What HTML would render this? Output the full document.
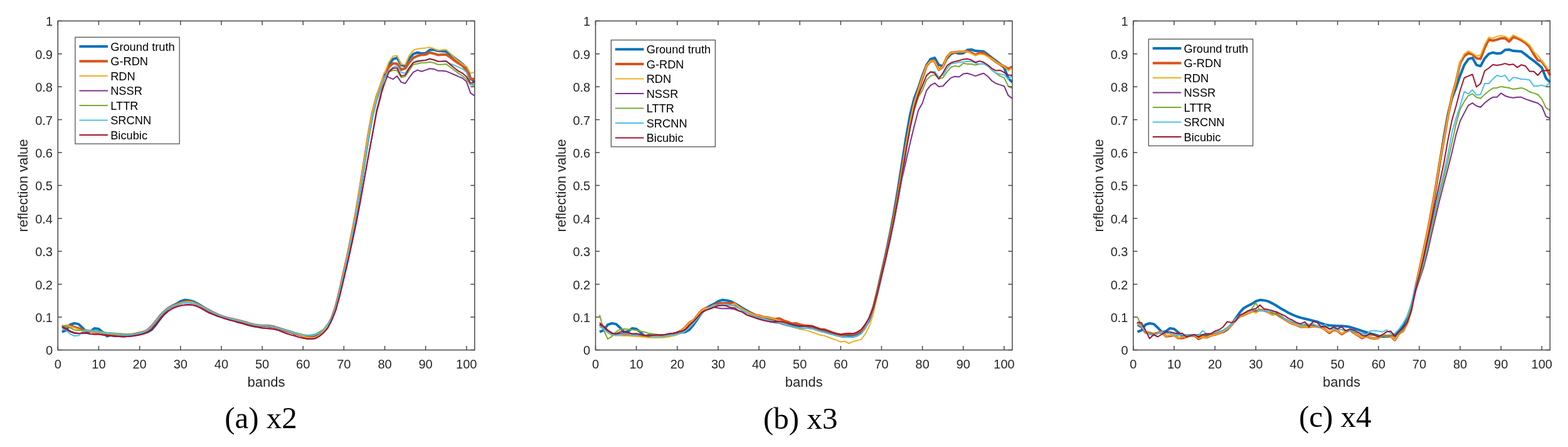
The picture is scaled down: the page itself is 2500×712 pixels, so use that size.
<!DOCTYPE html>
<html><head><meta charset="utf-8"><style>
html,body{margin:0;padding:0;background:#fff;width:2500px;height:712px;overflow:hidden}
svg{display:block}
.t{font-family:"Liberation Sans",Arial,sans-serif;font-size:20px;fill:#262626}
.l{font-family:"Liberation Sans",Arial,sans-serif;font-size:22px;fill:#262626}
.g{font-family:"Liberation Sans",Arial,sans-serif;font-size:18.25px;fill:#000}
.c{font-family:"Liberation Serif","Times New Roman",serif;font-size:49px;fill:#000}
</style></head><body>
<svg width="2500" height="712" viewBox="0 0 2500 712">
<polyline points="98.8,528.7 105.3,526.1 111.8,517.1 118.4,515.0 124.9,516.1 131.4,521.9 137.9,529.2 144.4,527.6 150.9,522.9 157.4,524.0 164.0,529.2 170.5,535.5 177.0,533.9 183.5,534.4 190.0,534.4 196.5,533.9 203.1,534.4 209.6,533.9 216.1,532.9 222.6,531.3 229.1,529.7 235.6,528.7 242.1,525.0 248.7,517.1 255.2,507.7 261.7,498.3 268.2,490.9 274.7,487.3 281.2,484.1 287.8,479.9 294.3,477.8 300.8,478.4 307.3,479.9 313.8,483.1 320.3,486.7 326.8,490.9 333.4,494.6 339.9,498.3 346.4,501.4 352.9,504.0 359.4,506.1 365.9,507.7 372.4,509.3 379.0,510.9 385.5,512.4 392.0,515.0 398.5,517.1 405.0,518.2 411.5,518.7 418.1,519.2 424.6,519.2 431.1,519.8 437.6,520.8 444.1,522.9 450.6,525.0 457.1,527.1 463.7,529.2 470.2,531.3 476.7,532.9 483.2,535.0 489.7,536.0 496.2,536.0 502.7,535.5 509.3,533.4 515.8,528.2 522.3,518.7 528.8,507.7 535.3,489.4 541.8,463.2 548.3,434.3 554.9,405.5 561.4,374.1 567.9,340.0 574.4,301.7 580.9,260.3 587.4,218.9 594.0,182.2 600.5,156.6 607.0,139.8 613.5,120.4 620.0,103.6 626.5,94.2 633.0,92.1 639.6,103.6 646.1,105.2 652.6,93.1 659.1,85.8 665.6,83.7 672.1,85.3 678.6,84.8 685.2,79.5 691.7,79.0 698.2,81.1 704.7,81.6 711.2,82.1 717.7,86.9 724.3,92.1 730.8,96.8 737.3,102.1 743.8,107.8 750.3,124.6 756.8,130.9" fill="none" stroke="#0072BD" stroke-width="4" stroke-linejoin="round"/>
<polyline points="98.8,520.8 105.3,519.2 111.8,519.2 118.4,520.8 124.9,522.9 131.4,525.5 137.9,526.6 144.4,527.6 150.9,528.7 157.4,529.2 164.0,530.2 170.5,531.3 177.0,531.8 183.5,532.3 190.0,532.9 196.5,533.4 203.1,533.4 209.6,532.9 216.1,531.8 222.6,530.2 229.1,528.7 235.6,525.5 242.1,519.2 248.7,511.4 255.2,503.0 261.7,496.2 268.2,490.9 274.7,487.8 281.2,485.2 287.8,482.6 294.3,481.0 300.8,480.5 307.3,481.5 313.8,484.1 320.3,487.3 326.8,490.9 333.4,494.6 339.9,497.8 346.4,500.9 352.9,503.5 359.4,505.6 365.9,507.2 372.4,508.8 379.0,510.3 385.5,511.9 392.0,513.5 398.5,515.6 405.0,517.1 411.5,518.2 418.1,518.7 424.6,518.7 431.1,519.2 437.6,520.8 444.1,522.9 450.6,525.0 457.1,526.6 463.7,528.7 470.2,530.8 476.7,532.9 483.2,535.5 489.7,537.6 496.2,538.1 502.7,537.6 509.3,533.9 515.8,528.2 522.3,519.2 528.8,507.5 535.3,488.7 541.8,462.1 548.3,432.9 554.9,403.5 561.4,371.5 567.9,336.7 574.4,297.6 580.9,255.5 587.4,214.0 594.0,178.4 600.5,153.8 607.0,136.2 613.5,117.0 620.0,106.8 626.5,101.0 633.0,101.5 639.6,111.0 646.1,108.9 652.6,99.2 659.1,92.1 665.6,89.0 672.1,87.4 678.6,86.9 685.2,83.7 691.7,85.3 698.2,87.4 704.7,86.9 711.2,86.9 717.7,91.1 724.3,96.3 730.8,100.5 737.3,104.7 743.8,112.0 750.3,126.2 756.8,125.6" fill="none" stroke="#D95319" stroke-width="4" stroke-linejoin="round"/>
<polyline points="98.8,519.8 105.3,518.7 111.8,519.8 118.4,521.9 124.9,524.5 131.4,527.1 137.9,526.6 144.4,527.6 150.9,528.7 157.4,529.2 164.0,530.2 170.5,531.3 177.0,531.8 183.5,532.3 190.0,532.9 196.5,533.4 203.1,533.4 209.6,532.9 216.1,531.8 222.6,530.2 229.1,528.7 235.6,525.5 242.1,519.2 248.7,511.4 255.2,503.0 261.7,496.2 268.2,490.9 274.7,487.8 281.2,485.2 287.8,482.6 294.3,481.0 300.8,480.5 307.3,481.5 313.8,484.1 320.3,487.3 326.8,490.9 333.4,494.6 339.9,497.8 346.4,500.9 352.9,503.5 359.4,505.6 365.9,507.2 372.4,508.8 379.0,510.3 385.5,511.9 392.0,513.5 398.5,515.6 405.0,517.1 411.5,518.2 418.1,518.7 424.6,518.7 431.1,519.2 437.6,520.8 444.1,522.9 450.6,525.0 457.1,526.6 463.7,528.7 470.2,530.8 476.7,532.9 483.2,535.5 489.7,537.6 496.2,538.1 502.7,537.6 509.3,533.9 515.8,528.2 522.3,519.2 528.8,507.4 535.3,488.4 541.8,461.5 548.3,432.2 554.9,402.6 561.4,370.2 567.9,335.0 574.4,295.5 580.9,253.1 587.4,211.6 594.0,176.5 600.5,152.4 607.0,134.5 613.5,115.4 620.0,98.9 626.5,89.5 633.0,88.4 639.6,102.6 646.1,103.1 652.6,87.9 659.1,80.0 665.6,77.9 672.1,76.9 678.6,76.4 685.2,75.3 691.7,77.4 698.2,80.6 704.7,79.5 711.2,79.0 717.7,84.8 724.3,92.1 730.8,97.3 737.3,102.1 743.8,106.2 750.3,116.7 756.8,114.6" fill="none" stroke="#EDB120" stroke-width="2" stroke-linejoin="round"/>
<polyline points="98.8,519.8 105.3,522.9 111.8,527.1 118.4,529.7 124.9,530.8 131.4,531.3 137.9,530.8 144.4,532.0 150.9,532.6 157.4,532.6 164.0,533.4 170.5,533.9 177.0,535.0 183.5,535.7 190.0,536.0 196.5,536.4 203.1,536.0 209.6,535.5 216.1,534.4 222.6,533.4 229.1,531.8 235.6,529.2 242.1,524.5 248.7,517.1 255.2,509.3 261.7,501.4 268.2,495.7 274.7,491.5 281.2,488.8 287.8,486.7 294.3,485.7 300.8,485.2 307.3,485.7 313.8,487.8 320.3,490.9 326.8,494.6 333.4,498.3 339.9,500.9 346.4,503.5 352.9,505.6 359.4,507.7 365.9,509.8 372.4,511.4 379.0,513.5 385.5,515.0 392.0,517.1 398.5,518.7 405.0,520.3 411.5,521.3 418.1,522.4 424.6,522.9 431.1,523.4 437.6,524.5 444.1,526.1 450.6,528.7 457.1,531.3 463.7,533.4 470.2,535.0 476.7,537.1 483.2,538.6 489.7,539.7 496.2,539.7 502.7,539.2 509.3,535.5 515.8,530.2 522.3,522.9 528.8,510.3 535.3,494.3 541.8,471.0 548.3,443.9 554.9,416.1 561.4,386.6 567.9,355.9 574.4,322.1 580.9,285.2 587.4,248.9 594.0,213.4 600.5,178.8 607.0,154.6 613.5,118.3 620.0,123.2 626.5,126.2 633.0,121.1 639.6,130.9 646.1,133.0 652.6,123.5 659.1,114.8 665.6,111.6 672.1,113.8 678.6,111.6 685.2,109.2 691.7,109.9 698.2,112.7 704.7,112.7 711.2,113.4 717.7,116.2 724.3,119.0 730.8,121.8 737.3,124.5 743.8,130.1 750.3,148.4 756.8,152.6" fill="none" stroke="#7E2F8E" stroke-width="2" stroke-linejoin="round"/>
<polyline points="98.8,518.2 105.3,519.8 111.8,522.1 118.4,525.5 124.9,526.6 131.4,526.1 137.9,525.5 144.4,526.1 150.9,526.6 157.4,527.6 164.0,528.7 170.5,529.7 177.0,530.2 183.5,530.8 190.0,531.3 196.5,531.8 203.1,532.3 209.6,532.3 216.1,531.3 222.6,529.2 229.1,528.7 235.6,525.5 242.1,519.2 248.7,511.4 255.2,503.0 261.7,496.2 268.2,490.9 274.7,487.8 281.2,485.2 287.8,483.6 294.3,482.6 300.8,482.0 307.3,483.1 313.8,484.1 320.3,487.3 326.8,490.9 333.4,494.6 339.9,497.8 346.4,500.9 352.9,503.5 359.4,505.6 365.9,507.2 372.4,508.8 379.0,510.3 385.5,511.9 392.0,513.5 398.5,515.6 405.0,517.1 411.5,518.2 418.1,518.7 424.6,518.7 431.1,519.2 437.6,520.8 444.1,522.9 450.6,524.5 457.1,526.1 463.7,527.6 470.2,529.7 476.7,531.3 483.2,532.9 489.7,533.9 496.2,533.4 502.7,532.3 509.3,528.7 515.8,524.5 522.3,516.1 528.8,507.8 535.3,489.8 541.8,464.1 548.3,435.8 554.9,407.3 561.4,376.4 567.9,343.0 574.4,305.6 580.9,265.2 587.4,224.5 594.0,187.7 600.5,160.8 607.0,142.9 613.5,124.3 620.0,114.6 626.5,112.0 633.0,112.0 639.6,123.5 646.1,121.7 652.6,112.0 659.1,102.6 665.6,101.5 672.1,100.1 678.6,100.0 685.2,98.7 691.7,100.0 698.2,102.8 704.7,102.8 711.2,102.1 717.7,106.8 724.3,111.7 730.8,116.6 737.3,120.8 743.8,126.4 750.3,135.4 756.8,132.6" fill="none" stroke="#77AC30" stroke-width="2" stroke-linejoin="round"/>
<polyline points="98.8,523.7 105.3,525.7 111.8,532.0 118.4,535.1 124.9,534.6 131.4,529.4 137.9,525.6 144.4,526.6 150.9,527.8 157.4,528.7 164.0,529.7 170.5,530.2 177.0,531.3 183.5,531.8 190.0,532.6 196.5,533.4 203.1,533.4 209.6,533.4 216.1,532.3 222.6,530.8 229.1,528.7 235.6,525.5 242.1,519.2 248.7,511.4 255.2,503.0 261.7,496.2 268.2,490.9 274.7,487.8 281.2,485.2 287.8,483.6 294.3,482.6 300.8,482.0 307.3,483.1 313.8,484.1 320.3,487.3 326.8,490.9 333.4,494.6 339.9,497.8 346.4,500.9 352.9,503.5 359.4,505.6 365.9,507.2 372.4,508.8 379.0,510.3 385.5,511.9 392.0,513.5 398.5,515.6 405.0,517.1 411.5,518.2 418.1,518.7 424.6,518.7 431.1,519.2 437.6,520.8 444.1,522.9 450.6,524.5 457.1,526.1 463.7,528.2 470.2,530.2 476.7,531.8 483.2,533.4 489.7,534.4 496.2,534.4 502.7,533.4 509.3,530.2 515.8,525.5 522.3,517.1 528.8,507.8 535.3,489.6 541.8,463.7 548.3,435.1 554.9,406.4 561.4,375.2 567.9,341.5 574.4,303.7 580.9,262.8 587.4,221.7 594.0,185.0 600.5,158.7 607.0,141.3 613.5,122.3 620.0,112.0 626.5,107.1 633.0,104.8 639.6,115.2 646.1,116.7 652.6,106.8 659.1,99.2 665.6,96.3 672.1,96.3 678.6,96.0 685.2,93.7 691.7,95.2 698.2,97.9 704.7,97.9 711.2,97.3 717.7,101.5 724.3,104.0 730.8,106.8 737.3,109.6 743.8,115.2 750.3,134.7 756.8,136.8" fill="none" stroke="#4DBEEE" stroke-width="2" stroke-linejoin="round"/>
<polyline points="98.8,521.2 105.3,524.4 111.8,528.2 118.4,530.7 124.9,531.2 131.4,530.1 137.9,530.8 144.4,532.0 150.9,532.6 157.4,532.6 164.0,533.4 170.5,533.9 177.0,535.0 183.5,535.7 190.0,536.0 196.5,536.4 203.1,536.0 209.6,535.5 216.1,534.4 222.6,533.4 229.1,531.8 235.6,529.2 242.1,524.5 248.7,517.1 255.2,509.3 261.7,501.4 268.2,495.7 274.7,491.5 281.2,488.8 287.8,486.7 294.3,485.7 300.8,485.2 307.3,485.7 313.8,487.8 320.3,490.9 326.8,494.6 333.4,498.3 339.9,500.9 346.4,503.5 352.9,505.6 359.4,507.7 365.9,509.8 372.4,511.4 379.0,513.5 385.5,515.0 392.0,517.1 398.5,518.7 405.0,520.3 411.5,521.3 418.1,522.4 424.6,522.9 431.1,523.4 437.6,524.5 444.1,526.1 450.6,528.7 457.1,531.3 463.7,533.4 470.2,535.0 476.7,537.1 483.2,538.6 489.7,539.7 496.2,539.7 502.7,539.2 509.3,535.5 515.8,530.2 522.3,522.9 528.8,510.2 535.3,494.0 541.8,470.4 548.3,443.0 554.9,414.9 561.4,385.1 567.9,354.5 574.4,321.0 580.9,284.3 587.4,248.1 594.0,212.7 600.5,175.9 607.0,151.1 613.5,132.0 620.0,114.6 626.5,108.8 633.0,108.3 639.6,121.1 646.1,119.4 652.6,108.3 659.1,99.6 665.6,98.0 672.1,96.8 678.6,96.0 685.2,93.8 691.7,95.2 698.2,97.7 704.7,97.6 711.2,97.3 717.7,102.6 724.3,108.2 730.8,113.1 737.3,116.6 743.8,122.2 750.3,132.6 756.8,130.5" fill="none" stroke="#A2142F" stroke-width="2" stroke-linejoin="round"/>
<rect x="92.3" y="33.4" width="664.5" height="524.1" fill="none" stroke="#464646" stroke-width="1.5"/>
<line x1="92.3" y1="557.5" x2="92.3" y2="551.0" stroke="#464646" stroke-width="1.5"/>
<line x1="92.3" y1="33.4" x2="92.3" y2="39.9" stroke="#464646" stroke-width="1.5"/>
<text x="92.3" y="586.8" class="t" text-anchor="middle">0</text>
<line x1="157.4" y1="557.5" x2="157.4" y2="551.0" stroke="#464646" stroke-width="1.5"/>
<line x1="157.4" y1="33.4" x2="157.4" y2="39.9" stroke="#464646" stroke-width="1.5"/>
<text x="157.4" y="586.8" class="t" text-anchor="middle">10</text>
<line x1="222.6" y1="557.5" x2="222.6" y2="551.0" stroke="#464646" stroke-width="1.5"/>
<line x1="222.6" y1="33.4" x2="222.6" y2="39.9" stroke="#464646" stroke-width="1.5"/>
<text x="222.6" y="586.8" class="t" text-anchor="middle">20</text>
<line x1="287.8" y1="557.5" x2="287.8" y2="551.0" stroke="#464646" stroke-width="1.5"/>
<line x1="287.8" y1="33.4" x2="287.8" y2="39.9" stroke="#464646" stroke-width="1.5"/>
<text x="287.8" y="586.8" class="t" text-anchor="middle">30</text>
<line x1="352.9" y1="557.5" x2="352.9" y2="551.0" stroke="#464646" stroke-width="1.5"/>
<line x1="352.9" y1="33.4" x2="352.9" y2="39.9" stroke="#464646" stroke-width="1.5"/>
<text x="352.9" y="586.8" class="t" text-anchor="middle">40</text>
<line x1="418.1" y1="557.5" x2="418.1" y2="551.0" stroke="#464646" stroke-width="1.5"/>
<line x1="418.1" y1="33.4" x2="418.1" y2="39.9" stroke="#464646" stroke-width="1.5"/>
<text x="418.1" y="586.8" class="t" text-anchor="middle">50</text>
<line x1="483.2" y1="557.5" x2="483.2" y2="551.0" stroke="#464646" stroke-width="1.5"/>
<line x1="483.2" y1="33.4" x2="483.2" y2="39.9" stroke="#464646" stroke-width="1.5"/>
<text x="483.2" y="586.8" class="t" text-anchor="middle">60</text>
<line x1="548.3" y1="557.5" x2="548.3" y2="551.0" stroke="#464646" stroke-width="1.5"/>
<line x1="548.3" y1="33.4" x2="548.3" y2="39.9" stroke="#464646" stroke-width="1.5"/>
<text x="548.3" y="586.8" class="t" text-anchor="middle">70</text>
<line x1="613.5" y1="557.5" x2="613.5" y2="551.0" stroke="#464646" stroke-width="1.5"/>
<line x1="613.5" y1="33.4" x2="613.5" y2="39.9" stroke="#464646" stroke-width="1.5"/>
<text x="613.5" y="586.8" class="t" text-anchor="middle">80</text>
<line x1="678.6" y1="557.5" x2="678.6" y2="551.0" stroke="#464646" stroke-width="1.5"/>
<line x1="678.6" y1="33.4" x2="678.6" y2="39.9" stroke="#464646" stroke-width="1.5"/>
<text x="678.6" y="586.8" class="t" text-anchor="middle">90</text>
<line x1="743.8" y1="557.5" x2="743.8" y2="551.0" stroke="#464646" stroke-width="1.5"/>
<line x1="743.8" y1="33.4" x2="743.8" y2="39.9" stroke="#464646" stroke-width="1.5"/>
<text x="743.8" y="586.8" class="t" text-anchor="middle">100</text>
<line x1="92.3" y1="557.5" x2="98.8" y2="557.5" stroke="#464646" stroke-width="1.5"/>
<line x1="756.8" y1="557.5" x2="750.3" y2="557.5" stroke="#464646" stroke-width="1.5"/>
<text x="84.0" y="565.4" class="t" text-anchor="end">0</text>
<line x1="92.3" y1="505.1" x2="98.8" y2="505.1" stroke="#464646" stroke-width="1.5"/>
<line x1="756.8" y1="505.1" x2="750.3" y2="505.1" stroke="#464646" stroke-width="1.5"/>
<text x="84.0" y="513.0" class="t" text-anchor="end">0.1</text>
<line x1="92.3" y1="452.7" x2="98.8" y2="452.7" stroke="#464646" stroke-width="1.5"/>
<line x1="756.8" y1="452.7" x2="750.3" y2="452.7" stroke="#464646" stroke-width="1.5"/>
<text x="84.0" y="460.6" class="t" text-anchor="end">0.2</text>
<line x1="92.3" y1="400.3" x2="98.8" y2="400.3" stroke="#464646" stroke-width="1.5"/>
<line x1="756.8" y1="400.3" x2="750.3" y2="400.3" stroke="#464646" stroke-width="1.5"/>
<text x="84.0" y="408.2" class="t" text-anchor="end">0.3</text>
<line x1="92.3" y1="347.9" x2="98.8" y2="347.9" stroke="#464646" stroke-width="1.5"/>
<line x1="756.8" y1="347.9" x2="750.3" y2="347.9" stroke="#464646" stroke-width="1.5"/>
<text x="84.0" y="355.8" class="t" text-anchor="end">0.4</text>
<line x1="92.3" y1="295.4" x2="98.8" y2="295.4" stroke="#464646" stroke-width="1.5"/>
<line x1="756.8" y1="295.4" x2="750.3" y2="295.4" stroke="#464646" stroke-width="1.5"/>
<text x="84.0" y="303.3" class="t" text-anchor="end">0.5</text>
<line x1="92.3" y1="243.0" x2="98.8" y2="243.0" stroke="#464646" stroke-width="1.5"/>
<line x1="756.8" y1="243.0" x2="750.3" y2="243.0" stroke="#464646" stroke-width="1.5"/>
<text x="84.0" y="250.9" class="t" text-anchor="end">0.6</text>
<line x1="92.3" y1="190.6" x2="98.8" y2="190.6" stroke="#464646" stroke-width="1.5"/>
<line x1="756.8" y1="190.6" x2="750.3" y2="190.6" stroke="#464646" stroke-width="1.5"/>
<text x="84.0" y="198.5" class="t" text-anchor="end">0.7</text>
<line x1="92.3" y1="138.2" x2="98.8" y2="138.2" stroke="#464646" stroke-width="1.5"/>
<line x1="756.8" y1="138.2" x2="750.3" y2="138.2" stroke="#464646" stroke-width="1.5"/>
<text x="84.0" y="146.1" class="t" text-anchor="end">0.8</text>
<line x1="92.3" y1="85.8" x2="98.8" y2="85.8" stroke="#464646" stroke-width="1.5"/>
<line x1="756.8" y1="85.8" x2="750.3" y2="85.8" stroke="#464646" stroke-width="1.5"/>
<text x="84.0" y="93.7" class="t" text-anchor="end">0.9</text>
<line x1="92.3" y1="33.4" x2="98.8" y2="33.4" stroke="#464646" stroke-width="1.5"/>
<line x1="756.8" y1="33.4" x2="750.3" y2="33.4" stroke="#464646" stroke-width="1.5"/>
<text x="84.0" y="41.3" class="t" text-anchor="end">1</text>
<text x="424.6" y="615.8" class="l" text-anchor="middle">bands</text>
<text transform="translate(44.3,295.4) rotate(-90)" class="l" text-anchor="middle">reflection value</text>
<rect x="119.9" y="59.3" width="166.2" height="169.8" fill="#fff" stroke="#464646" stroke-width="1.2"/>
<line x1="126.4" y1="74.0" x2="171.9" y2="74.0" stroke="#0072BD" stroke-width="4"/>
<text x="176.2" y="80.9" class="g">Ground truth</text>
<line x1="126.4" y1="97.5" x2="171.9" y2="97.5" stroke="#D95319" stroke-width="4"/>
<text x="176.2" y="104.4" class="g">G-RDN</text>
<line x1="126.4" y1="121.0" x2="171.9" y2="121.0" stroke="#EDB120" stroke-width="2"/>
<text x="176.2" y="127.9" class="g">RDN</text>
<line x1="126.4" y1="144.5" x2="171.9" y2="144.5" stroke="#7E2F8E" stroke-width="2"/>
<text x="176.2" y="151.4" class="g">NSSR</text>
<line x1="126.4" y1="168.0" x2="171.9" y2="168.0" stroke="#77AC30" stroke-width="2"/>
<text x="176.2" y="174.9" class="g">LTTR</text>
<line x1="126.4" y1="191.5" x2="171.9" y2="191.5" stroke="#4DBEEE" stroke-width="2"/>
<text x="176.2" y="198.4" class="g">SRCNN</text>
<line x1="126.4" y1="215.0" x2="171.9" y2="215.0" stroke="#A2142F" stroke-width="2"/>
<text x="176.2" y="221.9" class="g">Bicubic</text>
<text x="416.05" y="681.9" class="c" text-anchor="middle">(a) x2</text>
<polyline points="956.0,528.7 962.5,526.1 969.0,517.1 975.6,515.0 982.1,516.1 988.6,521.9 995.1,529.2 1001.6,527.6 1008.1,522.9 1014.6,524.0 1021.2,529.2 1027.7,535.5 1034.2,533.9 1040.7,534.4 1047.2,534.4 1053.7,533.9 1060.3,534.4 1066.8,533.9 1073.3,532.9 1079.8,531.3 1086.3,529.7 1092.8,528.7 1099.3,525.0 1105.9,517.1 1112.4,507.7 1118.9,498.3 1125.4,490.9 1131.9,487.3 1138.4,484.1 1145.0,479.9 1151.5,477.8 1158.0,478.4 1164.5,479.9 1171.0,483.1 1177.5,486.7 1184.0,490.9 1190.6,494.6 1197.1,498.3 1203.6,501.4 1210.1,504.0 1216.6,506.1 1223.1,507.7 1229.6,509.3 1236.2,510.9 1242.7,512.4 1249.2,515.0 1255.7,517.1 1262.2,518.2 1268.7,518.7 1275.2,519.2 1281.8,519.2 1288.3,519.8 1294.8,520.8 1301.3,522.9 1307.8,525.0 1314.3,527.1 1320.9,529.2 1327.4,531.3 1333.9,532.9 1340.4,535.0 1346.9,536.0 1353.4,536.0 1359.9,535.5 1366.5,533.4 1373.0,528.2 1379.5,518.7 1386.0,507.7 1392.5,489.4 1399.0,463.2 1405.5,434.3 1412.1,405.5 1418.6,374.1 1425.1,340.0 1431.6,301.7 1438.1,260.3 1444.6,218.9 1451.2,182.2 1457.7,156.6 1464.2,139.8 1470.7,120.4 1477.2,103.6 1483.7,94.2 1490.2,92.1 1496.8,103.6 1503.3,105.2 1509.8,93.1 1516.3,85.8 1522.8,83.7 1529.3,85.3 1535.8,84.8 1542.4,79.5 1548.9,79.0 1555.4,81.1 1561.9,81.6 1568.4,82.1 1574.9,86.9 1581.5,92.1 1588.0,96.8 1594.5,102.1 1601.0,107.8 1607.5,124.6 1614.0,130.9" fill="none" stroke="#0072BD" stroke-width="4" stroke-linejoin="round"/>
<polyline points="956.0,517.1 962.5,520.8 969.0,527.1 975.6,531.3 982.1,532.9 988.6,532.9 995.1,531.8 1001.6,532.3 1008.1,533.4 1014.6,533.4 1021.2,533.9 1027.7,534.4 1034.2,535.5 1040.7,536.0 1047.2,536.0 1053.7,536.0 1060.3,535.5 1066.8,534.4 1073.3,533.4 1079.8,529.7 1086.3,526.8 1092.8,521.3 1099.3,513.7 1105.9,509.9 1112.4,501.9 1118.9,494.3 1125.4,491.0 1131.9,489.4 1138.4,485.9 1145.0,483.6 1151.5,483.1 1158.0,483.1 1164.5,483.1 1171.0,483.6 1177.5,488.3 1184.0,492.6 1190.6,496.0 1197.1,498.8 1203.6,501.6 1210.1,502.7 1216.6,504.9 1223.1,505.5 1229.6,507.1 1236.2,508.3 1242.7,507.2 1249.2,510.6 1255.7,512.6 1262.2,515.6 1268.7,515.0 1275.2,517.0 1281.8,518.5 1288.3,519.0 1294.8,519.5 1301.3,522.0 1307.8,524.4 1314.3,524.9 1320.9,527.4 1327.4,529.8 1333.9,531.8 1340.4,533.2 1346.9,532.3 1353.4,531.8 1359.9,532.3 1366.5,530.3 1373.0,526.4 1379.5,518.5 1386.0,508.7 1392.5,489.9 1399.0,464.7 1405.5,436.8 1412.1,408.8 1418.6,378.6 1425.1,345.8 1431.6,309.4 1438.1,270.7 1444.6,231.4 1451.2,195.1 1457.7,164.3 1464.2,144.0 1470.7,124.3 1477.2,104.9 1483.7,97.3 1490.2,97.3 1496.8,111.2 1503.3,106.3 1509.8,90.9 1516.3,83.9 1522.8,83.2 1529.3,82.5 1535.8,82.5 1542.4,81.6 1548.9,83.9 1555.4,87.4 1561.9,83.9 1568.4,84.6 1574.9,88.7 1581.5,93.7 1588.0,98.6 1594.5,102.8 1601.0,105.6 1607.5,109.8 1614.0,106.3" fill="none" stroke="#D95319" stroke-width="4" stroke-linejoin="round"/>
<polyline points="956.0,517.1 962.5,524.0 969.0,530.2 975.6,533.9 982.1,534.4 988.6,534.4 995.1,535.0 1001.6,535.0 1008.1,535.5 1014.6,536.0 1021.2,536.5 1027.7,537.1 1034.2,537.9 1040.7,537.9 1047.2,537.9 1053.7,537.9 1060.3,537.6 1066.8,536.5 1073.3,535.0 1079.8,533.4 1086.3,526.8 1092.8,521.3 1099.3,513.7 1105.9,509.9 1112.4,501.9 1118.9,494.3 1125.4,491.0 1131.9,489.4 1138.4,485.9 1145.0,486.2 1151.5,485.2 1158.0,485.2 1164.5,486.2 1171.0,483.6 1177.5,488.3 1184.0,492.6 1190.6,496.0 1197.1,498.8 1203.6,501.6 1210.1,502.7 1216.6,504.9 1223.1,505.5 1229.6,507.1 1236.2,508.3 1242.7,511.6 1249.2,514.5 1255.7,517.5 1262.2,520.3 1268.7,522.4 1275.2,524.4 1281.8,525.4 1288.3,526.9 1294.8,529.3 1301.3,531.3 1307.8,533.8 1314.3,534.8 1320.9,537.2 1327.4,539.7 1333.9,541.6 1340.4,544.6 1346.9,543.6 1353.4,547.0 1359.9,544.1 1366.5,542.6 1373.0,540.6 1379.5,532.3 1386.0,519.5 1392.5,499.8 1399.0,471.0 1405.5,442.0 1412.1,412.2 1418.6,380.4 1425.1,347.5 1431.6,310.9 1438.1,271.1 1444.6,230.5 1451.2,193.3 1457.7,162.6 1464.2,142.6 1470.7,122.3 1477.2,104.9 1483.7,97.3 1490.2,97.3 1496.8,111.2 1503.3,106.3 1509.8,90.9 1516.3,83.9 1522.8,83.2 1529.3,82.5 1535.8,82.5 1542.4,81.6 1548.9,85.3 1555.4,88.4 1561.9,86.3 1568.4,86.9 1574.9,90.5 1581.5,93.7 1588.0,98.6 1594.5,102.8 1601.0,105.6 1607.5,112.6 1614.0,108.3" fill="none" stroke="#EDB120" stroke-width="2" stroke-linejoin="round"/>
<polyline points="956.0,516.6 962.5,521.9 969.0,527.1 975.6,531.3 982.1,532.3 988.6,531.3 995.1,531.3 1001.6,531.3 1008.1,532.3 1014.6,531.6 1021.2,533.0 1027.7,534.4 1034.2,535.1 1040.7,533.9 1047.2,533.0 1053.7,533.9 1060.3,533.0 1066.8,531.6 1073.3,530.8 1079.8,529.5 1086.3,527.6 1092.8,525.0 1099.3,518.2 1105.9,511.9 1112.4,505.1 1118.9,497.8 1125.4,494.1 1131.9,492.0 1138.4,489.4 1145.0,490.4 1151.5,491.5 1158.0,491.2 1164.5,491.5 1171.0,492.5 1177.5,495.1 1184.0,497.1 1190.6,501.6 1197.1,503.8 1203.6,506.0 1210.1,508.3 1216.6,510.0 1223.1,511.6 1229.6,512.7 1236.2,514.0 1242.7,514.5 1249.2,517.1 1255.7,518.7 1262.2,520.3 1268.7,521.4 1275.2,522.4 1281.8,522.9 1288.3,522.9 1294.8,523.4 1301.3,525.9 1307.8,527.8 1314.3,529.3 1320.9,531.3 1327.4,532.8 1333.9,534.8 1340.4,536.2 1346.9,536.7 1353.4,537.2 1359.9,537.1 1366.5,535.2 1373.0,531.3 1379.5,523.4 1386.0,511.4 1392.5,492.1 1399.0,468.4 1405.5,441.5 1412.1,414.2 1418.6,385.6 1425.1,354.8 1431.6,320.9 1438.1,285.2 1444.6,256.2 1451.2,227.2 1457.7,200.6 1464.2,175.8 1470.7,164.3 1477.2,144.2 1483.7,135.8 1490.2,132.3 1496.8,137.9 1503.3,137.2 1509.8,130.2 1516.3,123.9 1522.8,121.8 1529.3,122.5 1535.8,117.6 1542.4,116.8 1548.9,118.9 1555.4,121.1 1561.9,118.8 1568.4,116.8 1574.9,121.8 1581.5,128.8 1588.0,133.0 1594.5,135.1 1601.0,137.2 1607.5,152.0 1614.0,156.9" fill="none" stroke="#7E2F8E" stroke-width="2" stroke-linejoin="round"/>
<polyline points="956.0,501.5 962.5,526.0 969.0,540.0 975.6,535.8 982.1,528.8 988.6,524.6 995.1,523.9 1001.6,524.5 1008.1,525.3 1014.6,526.1 1021.2,527.4 1027.7,528.8 1034.2,530.9 1040.7,531.8 1047.2,532.9 1053.7,533.4 1060.3,533.9 1066.8,533.9 1073.3,533.4 1079.8,532.3 1086.3,530.8 1092.8,527.6 1099.3,521.9 1105.9,514.5 1112.4,506.7 1118.9,499.3 1125.4,493.6 1131.9,489.9 1138.4,487.3 1145.0,487.3 1151.5,485.7 1158.0,485.7 1164.5,486.2 1171.0,487.3 1177.5,490.9 1184.0,494.6 1190.6,498.3 1197.1,501.4 1203.6,504.0 1210.1,506.1 1216.6,507.7 1223.1,509.3 1229.6,510.9 1236.2,511.9 1242.7,513.5 1249.2,516.1 1255.7,518.2 1262.2,519.8 1268.7,521.3 1275.2,522.4 1281.8,522.9 1288.3,522.9 1294.8,523.4 1301.3,525.5 1307.8,527.6 1314.3,529.2 1320.9,531.3 1327.4,532.9 1333.9,534.4 1340.4,536.0 1346.9,536.5 1353.4,537.1 1359.9,536.5 1366.5,535.0 1373.0,531.3 1379.5,523.4 1386.0,508.0 1392.5,490.3 1399.0,465.1 1405.5,437.2 1412.1,409.8 1418.6,380.4 1425.1,348.5 1431.6,313.2 1438.1,276.9 1444.6,239.6 1451.2,204.3 1457.7,175.8 1464.2,154.9 1470.7,144.0 1477.2,127.4 1483.7,121.1 1490.2,118.9 1496.8,125.3 1503.3,123.9 1509.8,114.7 1516.3,107.0 1522.8,104.9 1529.3,106.3 1535.8,100.7 1542.4,102.1 1548.9,102.1 1555.4,103.5 1561.9,102.1 1568.4,101.5 1574.9,105.6 1581.5,111.9 1588.0,116.8 1594.5,121.1 1601.0,123.9 1607.5,137.2 1614.0,140.7" fill="none" stroke="#77AC30" stroke-width="2" stroke-linejoin="round"/>
<polyline points="956.0,520.8 962.5,524.0 969.0,529.2 975.6,532.9 982.1,533.9 988.6,532.9 995.1,531.8 1001.6,532.3 1008.1,533.4 1014.6,533.4 1021.2,533.9 1027.7,534.4 1034.2,535.5 1040.7,536.0 1047.2,536.0 1053.7,536.0 1060.3,535.5 1066.8,534.4 1073.3,533.4 1079.8,532.3 1086.3,530.8 1092.8,527.1 1099.3,521.9 1105.9,514.5 1112.4,506.7 1118.9,499.3 1125.4,493.6 1131.9,489.9 1138.4,487.3 1145.0,485.7 1151.5,484.7 1158.0,484.7 1164.5,485.7 1171.0,487.3 1177.5,490.9 1184.0,494.6 1190.6,498.3 1197.1,501.4 1203.6,504.0 1210.1,506.1 1216.6,507.7 1223.1,509.3 1229.6,510.9 1236.2,511.9 1242.7,513.5 1249.2,516.1 1255.7,518.2 1262.2,519.8 1268.7,521.3 1275.2,522.4 1281.8,522.9 1288.3,522.9 1294.8,523.4 1301.3,525.5 1307.8,527.6 1314.3,529.2 1320.9,531.3 1327.4,532.9 1333.9,534.4 1340.4,536.0 1346.9,536.5 1353.4,537.1 1359.9,536.5 1366.5,535.0 1373.0,531.3 1379.5,523.4 1386.0,508.4 1392.5,491.7 1399.0,468.1 1405.5,441.5 1412.1,414.5 1418.6,385.9 1425.1,354.9 1431.6,320.9 1438.1,282.4 1444.6,242.4 1451.2,204.3 1457.7,173.7 1464.2,152.1 1470.7,135.9 1477.2,119.9 1483.7,114.1 1490.2,114.1 1496.8,122.5 1503.3,119.9 1509.8,109.4 1516.3,101.4 1522.8,100.5 1529.3,99.3 1535.8,98.6 1542.4,97.9 1548.9,97.9 1555.4,100.7 1561.9,102.1 1568.4,101.5 1574.9,104.9 1581.5,111.2 1588.0,116.2 1594.5,118.3 1601.0,118.9 1607.5,126.0 1614.0,120.4" fill="none" stroke="#4DBEEE" stroke-width="2" stroke-linejoin="round"/>
<polyline points="956.0,514.1 962.5,520.3 969.0,526.0 975.6,530.9 982.1,531.6 988.6,528.8 995.1,528.1 1001.6,529.5 1008.1,531.6 1014.6,531.6 1021.2,533.0 1027.7,534.4 1034.2,535.1 1040.7,533.9 1047.2,533.0 1053.7,533.9 1060.3,533.0 1066.8,531.6 1073.3,530.8 1079.8,529.5 1086.3,527.6 1092.8,525.0 1099.3,518.2 1105.9,511.9 1112.4,505.1 1118.9,497.8 1125.4,494.1 1131.9,492.0 1138.4,489.4 1145.0,487.0 1151.5,486.4 1158.0,487.3 1164.5,489.7 1171.0,490.4 1177.5,494.8 1184.0,497.1 1190.6,501.6 1197.1,503.8 1203.6,506.0 1210.1,508.3 1216.6,510.0 1223.1,511.6 1229.6,512.7 1236.2,511.9 1242.7,511.9 1249.2,513.0 1255.7,514.5 1262.2,516.1 1268.7,518.2 1275.2,518.7 1281.8,519.5 1288.3,519.0 1294.8,519.5 1301.3,522.0 1307.8,524.4 1314.3,524.9 1320.9,527.4 1327.4,529.8 1333.9,531.8 1340.4,533.2 1346.9,531.8 1353.4,531.6 1359.9,531.6 1366.5,529.2 1373.0,525.0 1379.5,516.6 1386.0,506.1 1392.5,490.4 1399.0,466.2 1405.5,439.3 1412.1,412.1 1418.6,383.0 1425.1,351.7 1431.6,317.0 1438.1,279.0 1444.6,239.6 1451.2,202.4 1457.7,172.6 1464.2,151.5 1470.7,136.3 1477.2,120.4 1483.7,114.7 1490.2,116.2 1496.8,126.0 1503.3,116.2 1509.8,104.9 1516.3,100.0 1522.8,97.9 1529.3,96.5 1535.8,94.4 1542.4,93.7 1548.9,95.8 1555.4,99.3 1561.9,97.2 1568.4,99.3 1574.9,103.5 1581.5,109.1 1588.0,112.6 1594.5,111.9 1601.0,115.4 1607.5,119.7 1614.0,119.7" fill="none" stroke="#A2142F" stroke-width="2" stroke-linejoin="round"/>
<rect x="949.5" y="33.4" width="664.5" height="524.1" fill="none" stroke="#464646" stroke-width="1.5"/>
<line x1="949.5" y1="557.5" x2="949.5" y2="551.0" stroke="#464646" stroke-width="1.5"/>
<line x1="949.5" y1="33.4" x2="949.5" y2="39.9" stroke="#464646" stroke-width="1.5"/>
<text x="949.5" y="586.8" class="t" text-anchor="middle">0</text>
<line x1="1014.6" y1="557.5" x2="1014.6" y2="551.0" stroke="#464646" stroke-width="1.5"/>
<line x1="1014.6" y1="33.4" x2="1014.6" y2="39.9" stroke="#464646" stroke-width="1.5"/>
<text x="1014.6" y="586.8" class="t" text-anchor="middle">10</text>
<line x1="1079.8" y1="557.5" x2="1079.8" y2="551.0" stroke="#464646" stroke-width="1.5"/>
<line x1="1079.8" y1="33.4" x2="1079.8" y2="39.9" stroke="#464646" stroke-width="1.5"/>
<text x="1079.8" y="586.8" class="t" text-anchor="middle">20</text>
<line x1="1145.0" y1="557.5" x2="1145.0" y2="551.0" stroke="#464646" stroke-width="1.5"/>
<line x1="1145.0" y1="33.4" x2="1145.0" y2="39.9" stroke="#464646" stroke-width="1.5"/>
<text x="1145.0" y="586.8" class="t" text-anchor="middle">30</text>
<line x1="1210.1" y1="557.5" x2="1210.1" y2="551.0" stroke="#464646" stroke-width="1.5"/>
<line x1="1210.1" y1="33.4" x2="1210.1" y2="39.9" stroke="#464646" stroke-width="1.5"/>
<text x="1210.1" y="586.8" class="t" text-anchor="middle">40</text>
<line x1="1275.2" y1="557.5" x2="1275.2" y2="551.0" stroke="#464646" stroke-width="1.5"/>
<line x1="1275.2" y1="33.4" x2="1275.2" y2="39.9" stroke="#464646" stroke-width="1.5"/>
<text x="1275.2" y="586.8" class="t" text-anchor="middle">50</text>
<line x1="1340.4" y1="557.5" x2="1340.4" y2="551.0" stroke="#464646" stroke-width="1.5"/>
<line x1="1340.4" y1="33.4" x2="1340.4" y2="39.9" stroke="#464646" stroke-width="1.5"/>
<text x="1340.4" y="586.8" class="t" text-anchor="middle">60</text>
<line x1="1405.5" y1="557.5" x2="1405.5" y2="551.0" stroke="#464646" stroke-width="1.5"/>
<line x1="1405.5" y1="33.4" x2="1405.5" y2="39.9" stroke="#464646" stroke-width="1.5"/>
<text x="1405.5" y="586.8" class="t" text-anchor="middle">70</text>
<line x1="1470.7" y1="557.5" x2="1470.7" y2="551.0" stroke="#464646" stroke-width="1.5"/>
<line x1="1470.7" y1="33.4" x2="1470.7" y2="39.9" stroke="#464646" stroke-width="1.5"/>
<text x="1470.7" y="586.8" class="t" text-anchor="middle">80</text>
<line x1="1535.8" y1="557.5" x2="1535.8" y2="551.0" stroke="#464646" stroke-width="1.5"/>
<line x1="1535.8" y1="33.4" x2="1535.8" y2="39.9" stroke="#464646" stroke-width="1.5"/>
<text x="1535.8" y="586.8" class="t" text-anchor="middle">90</text>
<line x1="1601.0" y1="557.5" x2="1601.0" y2="551.0" stroke="#464646" stroke-width="1.5"/>
<line x1="1601.0" y1="33.4" x2="1601.0" y2="39.9" stroke="#464646" stroke-width="1.5"/>
<text x="1601.0" y="586.8" class="t" text-anchor="middle">100</text>
<line x1="949.5" y1="557.5" x2="956.0" y2="557.5" stroke="#464646" stroke-width="1.5"/>
<line x1="1614.0" y1="557.5" x2="1607.5" y2="557.5" stroke="#464646" stroke-width="1.5"/>
<text x="941.2" y="565.4" class="t" text-anchor="end">0</text>
<line x1="949.5" y1="505.1" x2="956.0" y2="505.1" stroke="#464646" stroke-width="1.5"/>
<line x1="1614.0" y1="505.1" x2="1607.5" y2="505.1" stroke="#464646" stroke-width="1.5"/>
<text x="941.2" y="513.0" class="t" text-anchor="end">0.1</text>
<line x1="949.5" y1="452.7" x2="956.0" y2="452.7" stroke="#464646" stroke-width="1.5"/>
<line x1="1614.0" y1="452.7" x2="1607.5" y2="452.7" stroke="#464646" stroke-width="1.5"/>
<text x="941.2" y="460.6" class="t" text-anchor="end">0.2</text>
<line x1="949.5" y1="400.3" x2="956.0" y2="400.3" stroke="#464646" stroke-width="1.5"/>
<line x1="1614.0" y1="400.3" x2="1607.5" y2="400.3" stroke="#464646" stroke-width="1.5"/>
<text x="941.2" y="408.2" class="t" text-anchor="end">0.3</text>
<line x1="949.5" y1="347.9" x2="956.0" y2="347.9" stroke="#464646" stroke-width="1.5"/>
<line x1="1614.0" y1="347.9" x2="1607.5" y2="347.9" stroke="#464646" stroke-width="1.5"/>
<text x="941.2" y="355.8" class="t" text-anchor="end">0.4</text>
<line x1="949.5" y1="295.4" x2="956.0" y2="295.4" stroke="#464646" stroke-width="1.5"/>
<line x1="1614.0" y1="295.4" x2="1607.5" y2="295.4" stroke="#464646" stroke-width="1.5"/>
<text x="941.2" y="303.3" class="t" text-anchor="end">0.5</text>
<line x1="949.5" y1="243.0" x2="956.0" y2="243.0" stroke="#464646" stroke-width="1.5"/>
<line x1="1614.0" y1="243.0" x2="1607.5" y2="243.0" stroke="#464646" stroke-width="1.5"/>
<text x="941.2" y="250.9" class="t" text-anchor="end">0.6</text>
<line x1="949.5" y1="190.6" x2="956.0" y2="190.6" stroke="#464646" stroke-width="1.5"/>
<line x1="1614.0" y1="190.6" x2="1607.5" y2="190.6" stroke="#464646" stroke-width="1.5"/>
<text x="941.2" y="198.5" class="t" text-anchor="end">0.7</text>
<line x1="949.5" y1="138.2" x2="956.0" y2="138.2" stroke="#464646" stroke-width="1.5"/>
<line x1="1614.0" y1="138.2" x2="1607.5" y2="138.2" stroke="#464646" stroke-width="1.5"/>
<text x="941.2" y="146.1" class="t" text-anchor="end">0.8</text>
<line x1="949.5" y1="85.8" x2="956.0" y2="85.8" stroke="#464646" stroke-width="1.5"/>
<line x1="1614.0" y1="85.8" x2="1607.5" y2="85.8" stroke="#464646" stroke-width="1.5"/>
<text x="941.2" y="93.7" class="t" text-anchor="end">0.9</text>
<line x1="949.5" y1="33.4" x2="956.0" y2="33.4" stroke="#464646" stroke-width="1.5"/>
<line x1="1614.0" y1="33.4" x2="1607.5" y2="33.4" stroke="#464646" stroke-width="1.5"/>
<text x="941.2" y="41.3" class="t" text-anchor="end">1</text>
<text x="1281.8" y="615.8" class="l" text-anchor="middle">bands</text>
<text transform="translate(901.5,295.4) rotate(-90)" class="l" text-anchor="middle">reflection value</text>
<rect x="974.4" y="63.8" width="166" height="170" fill="#fff" stroke="#464646" stroke-width="1.2"/>
<line x1="980.9" y1="78.5" x2="1026.4" y2="78.5" stroke="#0072BD" stroke-width="4"/>
<text x="1030.7" y="85.4" class="g">Ground truth</text>
<line x1="980.9" y1="102.0" x2="1026.4" y2="102.0" stroke="#D95319" stroke-width="4"/>
<text x="1030.7" y="108.9" class="g">G-RDN</text>
<line x1="980.9" y1="125.5" x2="1026.4" y2="125.5" stroke="#EDB120" stroke-width="2"/>
<text x="1030.7" y="132.4" class="g">RDN</text>
<line x1="980.9" y1="149.0" x2="1026.4" y2="149.0" stroke="#7E2F8E" stroke-width="2"/>
<text x="1030.7" y="155.9" class="g">NSSR</text>
<line x1="980.9" y1="172.5" x2="1026.4" y2="172.5" stroke="#77AC30" stroke-width="2"/>
<text x="1030.7" y="179.4" class="g">LTTR</text>
<line x1="980.9" y1="196.0" x2="1026.4" y2="196.0" stroke="#4DBEEE" stroke-width="2"/>
<text x="1030.7" y="202.9" class="g">SRCNN</text>
<line x1="980.9" y1="219.5" x2="1026.4" y2="219.5" stroke="#A2142F" stroke-width="2"/>
<text x="1030.7" y="226.4" class="g">Bicubic</text>
<text x="1276.25" y="683.4" class="c" text-anchor="middle">(b) x3</text>
<polyline points="1813.4,528.7 1819.9,526.1 1826.4,517.1 1832.9,515.0 1839.4,516.1 1845.9,521.9 1852.5,529.2 1859.0,527.6 1865.5,522.9 1872.0,524.0 1878.5,529.2 1885.0,535.5 1891.5,533.9 1898.1,534.4 1904.6,534.4 1911.1,533.9 1917.6,534.4 1924.1,533.9 1930.6,532.9 1937.1,531.3 1943.7,529.7 1950.2,528.7 1956.7,525.0 1963.2,517.1 1969.7,507.7 1976.2,498.3 1982.8,490.9 1989.3,487.3 1995.8,484.1 2002.3,479.9 2008.8,477.8 2015.3,478.4 2021.8,479.9 2028.4,483.1 2034.9,486.7 2041.4,490.9 2047.9,494.6 2054.4,498.3 2060.9,501.4 2067.4,504.0 2074.0,506.1 2080.5,507.7 2087.0,509.3 2093.5,510.9 2100.0,512.4 2106.5,515.0 2113.1,517.1 2119.6,518.2 2126.1,518.7 2132.6,519.2 2139.1,519.2 2145.6,519.8 2152.1,520.8 2158.7,522.9 2165.2,525.0 2171.7,527.1 2178.2,529.2 2184.7,531.3 2191.2,532.9 2197.8,535.0 2204.3,536.0 2210.8,536.0 2217.3,535.5 2223.8,533.4 2230.3,528.2 2236.8,518.7 2243.4,507.7 2249.9,489.4 2256.4,463.2 2262.9,434.3 2269.4,405.5 2275.9,374.1 2282.4,340.0 2289.0,301.7 2295.5,260.3 2302.0,218.9 2308.5,182.2 2315.0,156.6 2321.5,139.8 2328.0,120.4 2334.6,103.6 2341.1,94.2 2347.6,92.1 2354.1,103.6 2360.6,105.2 2367.1,93.1 2373.7,85.8 2380.2,83.7 2386.7,85.3 2393.2,84.8 2399.7,79.5 2406.2,79.0 2412.7,81.1 2419.3,81.6 2425.8,82.1 2432.3,86.9 2438.8,92.1 2445.3,96.8 2451.8,102.1 2458.3,107.8 2464.9,124.6 2471.4,130.9" fill="none" stroke="#0072BD" stroke-width="4" stroke-linejoin="round"/>
<polyline points="1813.4,513.4 1819.9,520.3 1826.4,529.5 1832.9,530.2 1839.4,532.3 1845.9,530.2 1852.5,528.8 1859.0,535.8 1865.5,535.1 1872.0,533.7 1878.5,538.6 1885.0,538.6 1891.5,536.5 1898.1,534.4 1904.6,534.4 1911.1,540.0 1917.6,536.5 1924.1,537.2 1930.6,534.4 1937.1,533.0 1943.7,530.9 1950.2,528.2 1956.7,524.0 1963.2,517.7 1969.7,510.3 1976.2,504.0 1982.8,501.9 1989.3,498.8 1995.8,496.2 2002.3,495.1 2008.8,494.1 2015.3,494.6 2021.8,496.7 2028.4,500.9 2034.9,499.8 2041.4,504.6 2047.9,508.2 2054.4,512.4 2060.9,515.6 2067.4,517.7 2074.0,520.7 2080.5,520.3 2087.0,520.8 2093.5,519.5 2100.0,519.8 2106.5,521.4 2113.1,525.4 2119.6,530.3 2126.1,525.4 2132.6,527.1 2139.1,532.3 2145.6,528.4 2152.1,525.4 2158.7,530.3 2165.2,534.2 2171.7,538.6 2178.2,535.2 2184.7,538.2 2191.2,539.2 2197.8,538.2 2204.3,533.8 2210.8,535.2 2217.3,534.8 2223.8,541.6 2230.3,531.3 2236.8,527.4 2243.4,514.6 2249.9,493.9 2256.4,460.5 2262.9,431.0 2269.4,400.7 2275.9,369.8 2282.4,335.7 2289.0,298.9 2295.5,258.3 2302.0,223.1 2308.5,185.4 2315.0,153.6 2321.5,130.0 2328.0,100.5 2334.6,89.3 2341.1,84.8 2347.6,86.5 2354.1,92.9 2360.6,93.8 2367.1,76.5 2373.7,62.9 2380.2,64.7 2386.7,63.1 2393.2,61.0 2399.7,61.0 2406.2,66.3 2412.7,58.9 2419.3,61.0 2425.8,64.2 2432.3,68.4 2438.8,74.7 2445.3,86.3 2451.8,95.8 2458.3,97.9 2464.9,107.4 2471.4,120.0" fill="none" stroke="#D95319" stroke-width="4" stroke-linejoin="round"/>
<polyline points="1813.4,513.4 1819.9,520.3 1826.4,529.5 1832.9,530.2 1839.4,534.4 1845.9,530.2 1852.5,528.8 1859.0,535.8 1865.5,533.9 1872.0,533.7 1878.5,538.6 1885.0,536.5 1891.5,536.5 1898.1,534.4 1904.6,534.4 1911.1,538.6 1917.6,536.5 1924.1,537.2 1930.6,534.4 1937.1,533.0 1943.7,530.9 1950.2,528.2 1956.7,524.0 1963.2,517.7 1969.7,510.3 1976.2,504.0 1982.8,501.9 1989.3,498.8 1995.8,496.2 2002.3,498.8 2008.8,494.1 2015.3,494.6 2021.8,496.7 2028.4,501.9 2034.9,499.8 2041.4,504.6 2047.9,508.2 2054.4,512.4 2060.9,515.6 2067.4,517.7 2074.0,520.7 2080.5,520.3 2087.0,520.8 2093.5,519.5 2100.0,519.8 2106.5,521.4 2113.1,525.4 2119.6,529.2 2126.1,525.4 2132.6,527.1 2139.1,531.3 2145.6,528.4 2152.1,525.4 2158.7,530.3 2165.2,534.2 2171.7,537.6 2178.2,535.2 2184.7,538.2 2191.2,539.2 2197.8,538.2 2204.3,533.8 2210.8,535.2 2217.3,534.8 2223.8,541.6 2230.3,531.3 2236.8,527.4 2243.4,514.6 2249.9,493.9 2256.4,460.5 2262.9,431.0 2269.4,400.7 2275.9,369.8 2282.4,335.7 2289.0,298.9 2295.5,258.3 2302.0,223.1 2308.5,185.4 2315.0,153.6 2321.5,130.0 2328.0,98.4 2334.6,85.7 2341.1,81.1 2347.6,84.8 2354.1,89.3 2360.6,87.5 2367.1,71.1 2373.7,59.2 2380.2,61.0 2386.7,57.9 2393.2,56.8 2399.7,57.9 2406.2,62.1 2412.7,55.8 2419.3,58.9 2425.8,62.1 2432.3,66.3 2438.8,71.6 2445.3,82.1 2451.8,88.4 2458.3,96.9 2464.9,105.3 2471.4,114.8" fill="none" stroke="#EDB120" stroke-width="2" stroke-linejoin="round"/>
<polyline points="1813.4,518.2 1819.9,521.9 1826.4,528.2 1832.9,531.3 1839.4,532.3 1845.9,531.3 1852.5,530.2 1859.0,530.2 1865.5,531.3 1872.0,532.3 1878.5,533.4 1885.0,532.9 1891.5,533.4 1898.1,533.4 1904.6,533.4 1911.1,533.9 1917.6,533.4 1924.1,532.3 1930.6,531.3 1937.1,529.7 1943.7,528.2 1950.2,526.1 1956.7,521.9 1963.2,516.1 1969.7,508.2 1976.2,502.5 1982.8,499.3 1989.3,496.2 1995.8,493.7 2002.3,493.7 2008.8,494.8 2015.3,494.8 2021.8,495.9 2028.4,497.8 2034.9,500.4 2041.4,503.8 2047.9,507.1 2054.4,510.5 2060.9,512.7 2067.4,515.0 2074.0,517.1 2080.5,517.7 2087.0,518.2 2093.5,517.7 2100.0,519.5 2106.5,520.8 2113.1,521.4 2119.6,523.4 2126.1,524.0 2132.6,525.0 2139.1,525.0 2145.6,527.1 2152.1,526.6 2158.7,528.7 2165.2,529.2 2171.7,531.3 2178.2,531.8 2184.7,533.4 2191.2,533.7 2197.8,535.5 2204.3,535.0 2210.8,535.0 2217.3,534.2 2223.8,534.4 2230.3,531.3 2236.8,525.0 2243.4,513.0 2249.9,492.0 2256.4,465.8 2262.9,446.5 2269.4,427.3 2275.9,402.6 2282.4,373.6 2289.0,345.3 2295.5,317.9 2302.0,292.7 2308.5,268.6 2315.0,242.8 2321.5,214.4 2328.0,192.8 2334.6,179.9 2341.1,167.8 2347.6,164.1 2354.1,168.7 2360.6,170.7 2367.1,164.1 2373.7,158.7 2380.2,154.8 2386.7,154.8 2393.2,148.4 2399.7,152.7 2406.2,154.8 2412.7,155.8 2419.3,154.8 2425.8,154.8 2432.3,157.9 2438.8,160.0 2445.3,162.2 2451.8,164.3 2458.3,169.5 2464.9,185.3 2471.4,188.5" fill="none" stroke="#7E2F8E" stroke-width="2" stroke-linejoin="round"/>
<polyline points="1813.4,505.1 1819.9,518.2 1826.4,528.2 1832.9,531.3 1839.4,532.3 1845.9,531.3 1852.5,530.2 1859.0,530.2 1865.5,531.3 1872.0,532.3 1878.5,533.4 1885.0,532.9 1891.5,533.4 1898.1,533.4 1904.6,533.4 1911.1,533.9 1917.6,533.4 1924.1,532.3 1930.6,531.3 1937.1,529.7 1943.7,528.2 1950.2,526.1 1956.7,521.9 1963.2,516.1 1969.7,508.2 1976.2,502.5 1982.8,499.3 1989.3,496.2 1995.8,492.0 2002.3,482.4 2008.8,494.6 2015.3,494.8 2021.8,495.9 2028.4,497.8 2034.9,500.4 2041.4,503.8 2047.9,507.1 2054.4,510.5 2060.9,512.7 2067.4,515.0 2074.0,517.1 2080.5,517.7 2087.0,518.2 2093.5,516.6 2100.0,519.5 2106.5,519.5 2113.1,521.4 2119.6,522.9 2126.1,524.0 2132.6,524.4 2139.1,525.0 2145.6,526.9 2152.1,526.6 2158.7,529.2 2165.2,529.2 2171.7,532.3 2178.2,531.8 2184.7,534.2 2191.2,533.7 2197.8,536.2 2204.3,535.0 2210.8,535.2 2217.3,534.2 2223.8,535.2 2230.3,531.3 2236.8,524.4 2243.4,511.4 2249.9,489.4 2256.4,463.2 2262.9,442.9 2269.4,422.7 2275.9,394.8 2282.4,365.0 2289.0,336.4 2295.5,308.1 2302.0,282.4 2308.5,256.8 2315.0,227.2 2321.5,197.8 2328.0,173.9 2334.6,161.8 2341.1,152.3 2347.6,149.5 2354.1,155.0 2360.6,156.8 2367.1,150.4 2373.7,145.0 2380.2,140.4 2386.7,140.0 2393.2,137.9 2399.7,139.0 2406.2,140.0 2412.7,142.1 2419.3,141.1 2425.8,140.0 2432.3,142.1 2438.8,146.3 2445.3,148.4 2451.8,150.5 2458.3,157.9 2464.9,171.6 2471.4,175.9" fill="none" stroke="#77AC30" stroke-width="2" stroke-linejoin="round"/>
<polyline points="1813.4,515.6 1819.9,520.8 1826.4,528.2 1832.9,532.9 1839.4,533.9 1845.9,531.3 1852.5,530.2 1859.0,530.2 1865.5,531.3 1872.0,532.3 1878.5,533.4 1885.0,532.9 1891.5,533.4 1898.1,533.4 1904.6,533.4 1911.1,533.9 1917.6,526.7 1924.1,532.3 1930.6,531.3 1937.1,529.7 1943.7,528.2 1950.2,526.1 1956.7,521.9 1963.2,516.1 1969.7,508.2 1976.2,502.5 1982.8,499.3 1989.3,496.2 1995.8,493.7 2002.3,493.0 2008.8,494.8 2015.3,494.8 2021.8,495.9 2028.4,495.7 2034.9,496.2 2041.4,499.8 2047.9,507.1 2054.4,510.5 2060.9,512.7 2067.4,515.0 2074.0,519.8 2080.5,515.6 2087.0,516.6 2093.5,515.6 2100.0,519.5 2106.5,520.5 2113.1,517.1 2119.6,522.9 2126.1,524.0 2132.6,525.0 2139.1,525.0 2145.6,525.9 2152.1,526.6 2158.7,527.6 2165.2,529.3 2171.7,531.3 2178.2,533.4 2184.7,527.2 2191.2,526.4 2197.8,527.4 2204.3,528.8 2210.8,525.4 2217.3,531.3 2223.8,531.3 2230.3,524.4 2236.8,515.6 2243.4,503.8 2249.9,484.1 2256.4,457.9 2262.9,438.3 2269.4,418.6 2275.9,388.8 2282.4,359.0 2289.0,330.1 2295.5,301.6 2302.0,274.8 2308.5,246.1 2315.0,210.8 2321.5,188.4 2328.0,169.1 2334.6,145.9 2341.1,149.5 2347.6,143.1 2354.1,151.4 2360.6,150.4 2367.1,133.1 2373.7,133.1 2380.2,125.8 2386.7,120.0 2393.2,122.1 2399.7,120.0 2406.2,129.5 2412.7,123.2 2419.3,124.2 2425.8,126.3 2432.3,126.3 2438.8,127.4 2445.3,136.9 2451.8,136.9 2458.3,135.8 2464.9,137.9 2471.4,130.6" fill="none" stroke="#4DBEEE" stroke-width="2" stroke-linejoin="round"/>
<polyline points="1813.4,513.4 1819.9,514.1 1826.4,526.1 1832.9,539.3 1839.4,533.0 1845.9,536.5 1852.5,532.3 1859.0,528.8 1865.5,528.8 1872.0,530.2 1878.5,531.3 1885.0,530.9 1891.5,536.5 1898.1,534.4 1904.6,533.0 1911.1,537.2 1917.6,533.0 1924.1,531.6 1930.6,531.9 1937.1,527.4 1943.7,525.2 1950.2,520.7 1956.7,512.3 1963.2,513.9 1969.7,511.6 1976.2,502.7 1982.8,499.3 1989.3,495.3 1995.8,493.1 2002.3,491.4 2008.8,485.8 2015.3,492.0 2021.8,493.1 2028.4,494.8 2034.9,497.0 2041.4,499.8 2047.9,502.7 2054.4,507.1 2060.9,510.0 2067.4,513.9 2074.0,515.6 2080.5,512.7 2087.0,520.7 2093.5,512.1 2100.0,513.6 2106.5,520.5 2113.1,519.5 2119.6,524.4 2126.1,521.0 2132.6,523.9 2139.1,520.5 2145.6,526.9 2152.1,524.4 2158.7,525.9 2165.2,529.3 2171.7,534.2 2178.2,535.2 2184.7,531.3 2191.2,533.8 2197.8,536.7 2204.3,533.2 2210.8,528.4 2217.3,527.4 2223.8,536.2 2230.3,528.4 2236.8,522.4 2243.4,513.6 2249.9,495.9 2256.4,463.2 2262.9,438.4 2269.4,412.7 2275.9,382.9 2282.4,352.7 2289.0,320.8 2295.5,290.1 2302.0,260.2 2308.5,223.4 2315.0,191.3 2321.5,169.1 2328.0,144.0 2334.6,124.0 2341.1,121.2 2347.6,118.5 2354.1,138.6 2360.6,133.1 2367.1,113.0 2373.7,108.5 2380.2,103.0 2386.7,103.9 2393.2,103.0 2399.7,101.1 2406.2,103.2 2412.7,102.2 2419.3,107.4 2425.8,103.2 2432.3,105.3 2438.8,113.7 2445.3,113.7 2451.8,120.0 2458.3,112.6 2464.9,112.6 2471.4,111.6" fill="none" stroke="#A2142F" stroke-width="2" stroke-linejoin="round"/>
<rect x="1806.85" y="33.4" width="664.5" height="524.1" fill="none" stroke="#464646" stroke-width="1.5"/>
<line x1="1806.8" y1="557.5" x2="1806.8" y2="551.0" stroke="#464646" stroke-width="1.5"/>
<line x1="1806.8" y1="33.4" x2="1806.8" y2="39.9" stroke="#464646" stroke-width="1.5"/>
<text x="1806.8" y="586.8" class="t" text-anchor="middle">0</text>
<line x1="1872.0" y1="557.5" x2="1872.0" y2="551.0" stroke="#464646" stroke-width="1.5"/>
<line x1="1872.0" y1="33.4" x2="1872.0" y2="39.9" stroke="#464646" stroke-width="1.5"/>
<text x="1872.0" y="586.8" class="t" text-anchor="middle">10</text>
<line x1="1937.1" y1="557.5" x2="1937.1" y2="551.0" stroke="#464646" stroke-width="1.5"/>
<line x1="1937.1" y1="33.4" x2="1937.1" y2="39.9" stroke="#464646" stroke-width="1.5"/>
<text x="1937.1" y="586.8" class="t" text-anchor="middle">20</text>
<line x1="2002.3" y1="557.5" x2="2002.3" y2="551.0" stroke="#464646" stroke-width="1.5"/>
<line x1="2002.3" y1="33.4" x2="2002.3" y2="39.9" stroke="#464646" stroke-width="1.5"/>
<text x="2002.3" y="586.8" class="t" text-anchor="middle">30</text>
<line x1="2067.4" y1="557.5" x2="2067.4" y2="551.0" stroke="#464646" stroke-width="1.5"/>
<line x1="2067.4" y1="33.4" x2="2067.4" y2="39.9" stroke="#464646" stroke-width="1.5"/>
<text x="2067.4" y="586.8" class="t" text-anchor="middle">40</text>
<line x1="2132.6" y1="557.5" x2="2132.6" y2="551.0" stroke="#464646" stroke-width="1.5"/>
<line x1="2132.6" y1="33.4" x2="2132.6" y2="39.9" stroke="#464646" stroke-width="1.5"/>
<text x="2132.6" y="586.8" class="t" text-anchor="middle">50</text>
<line x1="2197.8" y1="557.5" x2="2197.8" y2="551.0" stroke="#464646" stroke-width="1.5"/>
<line x1="2197.8" y1="33.4" x2="2197.8" y2="39.9" stroke="#464646" stroke-width="1.5"/>
<text x="2197.8" y="586.8" class="t" text-anchor="middle">60</text>
<line x1="2262.9" y1="557.5" x2="2262.9" y2="551.0" stroke="#464646" stroke-width="1.5"/>
<line x1="2262.9" y1="33.4" x2="2262.9" y2="39.9" stroke="#464646" stroke-width="1.5"/>
<text x="2262.9" y="586.8" class="t" text-anchor="middle">70</text>
<line x1="2328.0" y1="557.5" x2="2328.0" y2="551.0" stroke="#464646" stroke-width="1.5"/>
<line x1="2328.0" y1="33.4" x2="2328.0" y2="39.9" stroke="#464646" stroke-width="1.5"/>
<text x="2328.0" y="586.8" class="t" text-anchor="middle">80</text>
<line x1="2393.2" y1="557.5" x2="2393.2" y2="551.0" stroke="#464646" stroke-width="1.5"/>
<line x1="2393.2" y1="33.4" x2="2393.2" y2="39.9" stroke="#464646" stroke-width="1.5"/>
<text x="2393.2" y="586.8" class="t" text-anchor="middle">90</text>
<line x1="2458.3" y1="557.5" x2="2458.3" y2="551.0" stroke="#464646" stroke-width="1.5"/>
<line x1="2458.3" y1="33.4" x2="2458.3" y2="39.9" stroke="#464646" stroke-width="1.5"/>
<text x="2458.3" y="586.8" class="t" text-anchor="middle">100</text>
<line x1="1806.85" y1="557.5" x2="1813.35" y2="557.5" stroke="#464646" stroke-width="1.5"/>
<line x1="2471.4" y1="557.5" x2="2464.9" y2="557.5" stroke="#464646" stroke-width="1.5"/>
<text x="1798.5" y="565.4" class="t" text-anchor="end">0</text>
<line x1="1806.85" y1="505.1" x2="1813.35" y2="505.1" stroke="#464646" stroke-width="1.5"/>
<line x1="2471.4" y1="505.1" x2="2464.9" y2="505.1" stroke="#464646" stroke-width="1.5"/>
<text x="1798.5" y="513.0" class="t" text-anchor="end">0.1</text>
<line x1="1806.85" y1="452.7" x2="1813.35" y2="452.7" stroke="#464646" stroke-width="1.5"/>
<line x1="2471.4" y1="452.7" x2="2464.9" y2="452.7" stroke="#464646" stroke-width="1.5"/>
<text x="1798.5" y="460.6" class="t" text-anchor="end">0.2</text>
<line x1="1806.85" y1="400.3" x2="1813.35" y2="400.3" stroke="#464646" stroke-width="1.5"/>
<line x1="2471.4" y1="400.3" x2="2464.9" y2="400.3" stroke="#464646" stroke-width="1.5"/>
<text x="1798.5" y="408.2" class="t" text-anchor="end">0.3</text>
<line x1="1806.85" y1="347.9" x2="1813.35" y2="347.9" stroke="#464646" stroke-width="1.5"/>
<line x1="2471.4" y1="347.9" x2="2464.9" y2="347.9" stroke="#464646" stroke-width="1.5"/>
<text x="1798.5" y="355.8" class="t" text-anchor="end">0.4</text>
<line x1="1806.85" y1="295.4" x2="1813.35" y2="295.4" stroke="#464646" stroke-width="1.5"/>
<line x1="2471.4" y1="295.4" x2="2464.9" y2="295.4" stroke="#464646" stroke-width="1.5"/>
<text x="1798.5" y="303.3" class="t" text-anchor="end">0.5</text>
<line x1="1806.85" y1="243.0" x2="1813.35" y2="243.0" stroke="#464646" stroke-width="1.5"/>
<line x1="2471.4" y1="243.0" x2="2464.9" y2="243.0" stroke="#464646" stroke-width="1.5"/>
<text x="1798.5" y="250.9" class="t" text-anchor="end">0.6</text>
<line x1="1806.85" y1="190.6" x2="1813.35" y2="190.6" stroke="#464646" stroke-width="1.5"/>
<line x1="2471.4" y1="190.6" x2="2464.9" y2="190.6" stroke="#464646" stroke-width="1.5"/>
<text x="1798.5" y="198.5" class="t" text-anchor="end">0.7</text>
<line x1="1806.85" y1="138.2" x2="1813.35" y2="138.2" stroke="#464646" stroke-width="1.5"/>
<line x1="2471.4" y1="138.2" x2="2464.9" y2="138.2" stroke="#464646" stroke-width="1.5"/>
<text x="1798.5" y="146.1" class="t" text-anchor="end">0.8</text>
<line x1="1806.85" y1="85.8" x2="1813.35" y2="85.8" stroke="#464646" stroke-width="1.5"/>
<line x1="2471.4" y1="85.8" x2="2464.9" y2="85.8" stroke="#464646" stroke-width="1.5"/>
<text x="1798.5" y="93.7" class="t" text-anchor="end">0.9</text>
<line x1="1806.85" y1="33.4" x2="1813.35" y2="33.4" stroke="#464646" stroke-width="1.5"/>
<line x1="2471.4" y1="33.4" x2="2464.9" y2="33.4" stroke="#464646" stroke-width="1.5"/>
<text x="1798.5" y="41.3" class="t" text-anchor="end">1</text>
<text x="2139.1" y="615.8" class="l" text-anchor="middle">bands</text>
<text transform="translate(1758.8,295.4) rotate(-90)" class="l" text-anchor="middle">reflection value</text>
<rect x="1831.3" y="62.3" width="166.3" height="170" fill="#fff" stroke="#464646" stroke-width="1.2"/>
<line x1="1837.8" y1="77.0" x2="1883.3" y2="77.0" stroke="#0072BD" stroke-width="4"/>
<text x="1887.6" y="83.9" class="g">Ground truth</text>
<line x1="1837.8" y1="100.5" x2="1883.3" y2="100.5" stroke="#D95319" stroke-width="4"/>
<text x="1887.6" y="107.4" class="g">G-RDN</text>
<line x1="1837.8" y1="124.0" x2="1883.3" y2="124.0" stroke="#EDB120" stroke-width="2"/>
<text x="1887.6" y="130.9" class="g">RDN</text>
<line x1="1837.8" y1="147.5" x2="1883.3" y2="147.5" stroke="#7E2F8E" stroke-width="2"/>
<text x="1887.6" y="154.4" class="g">NSSR</text>
<line x1="1837.8" y1="171.0" x2="1883.3" y2="171.0" stroke="#77AC30" stroke-width="2"/>
<text x="1887.6" y="177.9" class="g">LTTR</text>
<line x1="1837.8" y1="194.5" x2="1883.3" y2="194.5" stroke="#4DBEEE" stroke-width="2"/>
<text x="1887.6" y="201.4" class="g">SRCNN</text>
<line x1="1837.8" y1="218.0" x2="1883.3" y2="218.0" stroke="#A2142F" stroke-width="2"/>
<text x="1887.6" y="224.9" class="g">Bicubic</text>
<text x="2128.75" y="680.4" class="c" text-anchor="middle">(c) x4</text>
</svg>
</body></html>
